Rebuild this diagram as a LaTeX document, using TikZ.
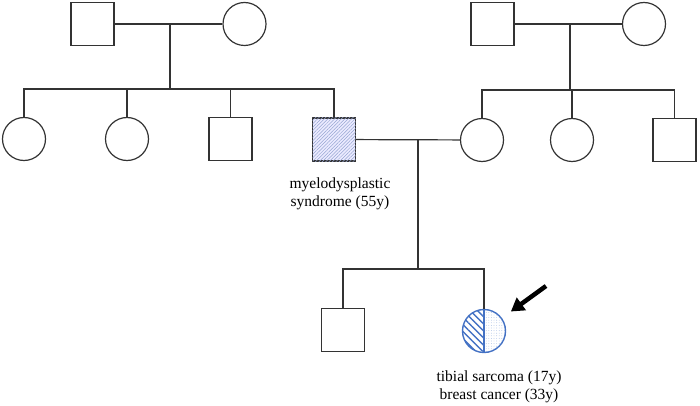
\documentclass[tikz,border=0pt]{standalone}
\usepackage{fontspec}
\setmainfont{Liberation Serif}
\usepackage{tikz}
\usetikzlibrary{arrows, arrows.meta, patterns, patterns.meta, calc}
\definecolor{probblue}{RGB}{68,114,196}
\definecolor{hatchblue}{RGB}{150,165,210}

\begin{document}
\begin{tikzpicture}[x=1pt,y=-1pt,>=triangle 45,
	pline/.style={draw=black!80, line width=1.2pt},
	male/.style={pline, rectangle, minimum size=43pt, inner sep=0pt},
	female/.style={pline, circle, minimum size=43pt, inner sep=0pt},
	txt/.style={align=center, font=\fontsize{15.5}{18.5}\selectfont}]
	\useasboundingbox (0,0) rectangle (700,406);
	% first generation
	\node[male] (gfa) at (92.5,24) {}; \node[female] (gma) at (244.5,24) {};
	\node[male] (gfb) at (492.5,24) {}; \node[female] (gmb) at (644,24) {};
	\coordinate (ma) at (170,24); \coordinate (sa) at (170,89);
	\coordinate (mb) at (570,24); \coordinate (sb) at (570,90);
	\draw[pline] (gfa) -- (gma); \draw[pline] (ma) -- (sa);
	\draw[pline] (gfb) -- (gmb); \draw[pline] (mb) -- (sb);

	% second generation
	\node[female] (a1) at (24,139) {}; \node[female] (a2) at (127,139) {};
	\node[male] (a3) at (230.5,139) {};
	\node[male, fill=blue!8, postaction={pattern={Lines[angle=45,distance=2.4pt,line width=0.5pt]}, pattern color=hatchblue}] (a4) at (334,139.5) {};
	\node[female] (b1) at (482,140) {}; \node[female] (b2) at (572,140) {};
	\node[male] (b3) at (674.5,140) {};
	\draw[pline] (a1) |- (sa) -| (a4); \draw[pline] (a2) -- (a2 |- sa); \draw[pline] (a3) -- (a3 |- sa);
	\draw[pline] (b1) |- (sb) -| (b3); \draw[pline] (b2) -- (b2 |- sb);
	\node[txt] (a4lbl) at (340,194) {myelodysplastic\\syndrome (55y)};

	% third generation
	\coordinate (mc) at (418,140); \coordinate (sc) at (418,269);
	\draw[pline] (a4) -- (b1); \draw[pline] (mc) -- (sc);
	\node[male] (c1) at (343,330) {};
	\node[female, draw=probblue, line width=1.4pt, path picture={
		\fill[pattern={Lines[angle=-45,distance=5pt,line width=1.4pt]}, pattern color=probblue] (path picture bounding box.north west) rectangle (path picture bounding box.south);
		\fill[pattern={Dots[distance=2.6pt,radius=0.45pt]}, pattern color=probblue!45] (path picture bounding box.north) rectangle (path picture bounding box.south east);
		\draw[probblue, line width=2pt] (path picture bounding box.north) -- (path picture bounding box.south);}] (c2) at (484,331) {};
	\draw[pline] (c1) |- (sc) -| (c2);
	\node[txt] (c2lbl) at (499,387) {tibial sarcoma (17y)\\breast cancer (33y)};
	\coordinate (ptr) at (546,286);
	\draw[-{Triangle[length=13pt,width=15pt]}, line width=4.5pt, shorten >=11pt] (ptr) -- (c2);
\end{tikzpicture}
\end{document}
